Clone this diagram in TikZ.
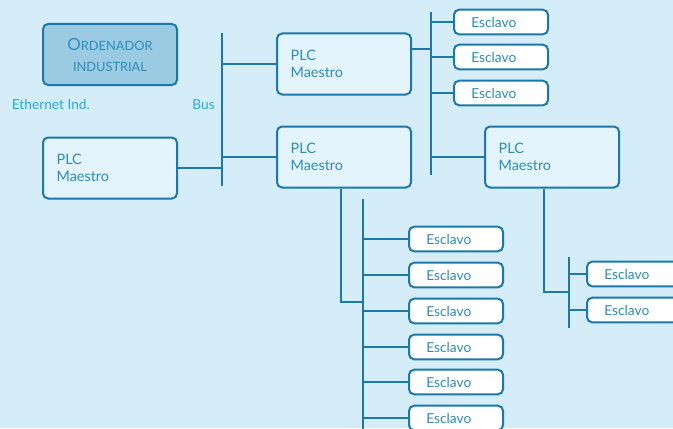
\documentclass[tikz,border=0pt]{standalone}
\usepackage{fontspec}
\setmainfont{Lato}

\definecolor{fondo}{HTML}{D5ECF9}
\definecolor{borde}{HTML}{1A79A8}
\definecolor{texto}{HTML}{2D8CBA}
\definecolor{etiqueta}{HTML}{2AA8E0}
\definecolor{relleno}{HTML}{E3F4FC}
\definecolor{pc}{HTML}{9BCBE3}

\tikzset{
  caja/.style={draw=borde, line width=1.5pt, rounded corners=3.8pt, text=texto},
  plc/.style={caja, fill=relleno, minimum width=100.5pt, minimum height=45.75pt,
    text width=80pt, inner xsep=10pt, align=left, font=\fontsize{10.8}{12.8}\selectfont},
  esclavo/.style={caja, fill=white, minimum width=70.5pt, minimum height=18.4pt,
    text width=44.5pt, inner xsep=13pt, align=left, font=\fontsize{10.3}{12}\selectfont},
  ordenador/.style={caja, fill=pc, minimum width=100.5pt, minimum height=45.75pt,
    align=center, font=\fontsize{9.6}{15.75}\selectfont},
  linea/.style={draw=borde, line width=1.5pt},
  rotulo/.style={text=etiqueta, font=\fontsize{10.3}{12}\selectfont, inner sep=0pt}
}

\begin{document}
\begin{tikzpicture}[x=0.75pt, y=-0.75pt]
    \useasboundingbox (0,0) rectangle (673,428);
    \clip (0,0) rectangle (673,428);
    \fill[fondo] (0,0) rectangle (673,428);

    % Bus end points
    \coordinate (bus0-top) at (222,33);
    \coordinate (bus0-bot) at (222,186);
    \coordinate (bus2-top) at (431,12);
    \coordinate (bus2-bot) at (431,175);
    \coordinate (bus2-join) at (431,49);
    \coordinate (bus3-top) at (363,199);
    \coordinate (bus3-bot) at (363,440);
    \coordinate (bus3-join) at (363,302);
    \coordinate (bus4-top) at (569,257);
    \coordinate (bus4-bot) at (569,328);
    \coordinate (bus4-join) at (569,292);

    % Buses
    \draw[linea] (bus0-top) -- (bus0-bot);
    \draw[linea] (bus2-top) -- (bus2-bot);
    \draw[linea] (bus3-top) -- (bus3-bot);
    \draw[linea] (bus4-top) -- (bus4-bot);

    % Upper level
    \node[ordenador] (ord) at (110,54.5)
      {{\fontsize{12.6}{15.75}\selectfont O}RDENADOR\\INDUSTRIAL};
    \node[rotulo, anchor=west] (eth) at (11.5,104.5) {Ethernet Ind.};
    \node[rotulo, anchor=east] (bus) at (215,104.5) {Bus};

    % Masters
    \node[plc] (plc0) at (110,168) {PLC\\Maestro};
    \node[plc] (plc1) at (344,64) {PLC\\Maestro};
    \node[plc] (plc2) at (344,157) {PLC\\Maestro};
    \node[plc] (plc3) at (552,157) {PLC\\Maestro};

    \draw[linea] (plc0.east) -- (bus0-bot |- plc0.east);
    \draw[linea] (bus0-top |- plc1.west) -- (plc1.west);
    \draw[linea] (bus0-top |- plc2.west) -- (plc2.west);
    \draw[linea] (bus2-join -| plc1.east) -- (bus2-join);
    \draw[linea] (bus2-top |- plc3.west) -- (plc3.west);
    \draw[linea] ([xshift=-2.25pt]plc2.south) |- (bus3-join);
    \draw[linea] ([xshift=-6pt]plc3.south) |- (bus4-join);

    % Slaves
    \foreach \i/\y in {1/22,2/57,3/93}{
        \node[esclavo] (esc-a\i) at (501,\y) {Esclavo};
        \draw[linea] (bus2-top |- esc-a\i.west) -- (esc-a\i.west);
    }
    \foreach \i/\y in {1/239,2/275,3/311,4/347,5/382,6/418}{
        \node[esclavo] (esc-b\i) at (456,\y) {Esclavo};
        \draw[linea] (bus3-top |- esc-b\i.west) -- (esc-b\i.west);
    }
    \foreach \i/\y in {1/274,2/310}{
        \node[esclavo] (esc-c\i) at (634,\y) {Esclavo};
        \draw[linea] (bus4-top |- esc-c\i.west) -- (esc-c\i.west);
    }
\end{tikzpicture}
\end{document}
